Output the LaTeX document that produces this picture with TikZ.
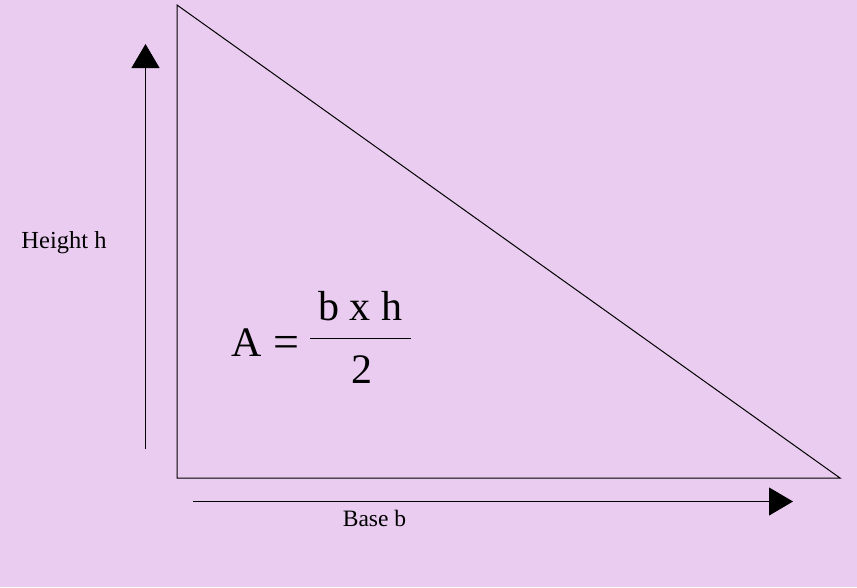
\documentclass[tikz,border=0pt]{standalone}
\usepackage{fontspec}
\setmainfont{Liberation Serif}
\usetikzlibrary{arrows.meta}
\definecolor{bgpurple}{HTML}{EACCF0}
\tikzset{
  edge/.style={line width=1pt, black},
  bigarrow/.style={line width=1pt, -{Triangle[length=24pt,width=28pt]}},
  lbl/.style={inner sep=0pt, font=\fontsize{24.5}{28}\selectfont},
  formula/.style={inner sep=0pt, font=\fontsize{42}{48}\selectfont}
}
\begin{document}
\begin{tikzpicture}[x=1pt,y=-1pt]
  \fill[bgpurple] (0,0) rectangle (857,587);
  \useasboundingbox (0,0) rectangle (857,587);
  % triangle
  \coordinate (T) at (177,5);
  \coordinate (O) at (177,478);
  \coordinate (R) at (840,478);
  \draw[edge, line join=miter] (T) -- (O) -- (R) -- cycle;
  % height arrow
  \coordinate (h0) at (145.5,449);
  \coordinate (h1) at (145.5,44);
  \draw[bigarrow] (h0) -- (h1);
  % base arrow
  \coordinate (b0) at (193,501.5);
  \coordinate (b1) at (793,501.5);
  \draw[bigarrow] (b0) -- (b1);
  % labels
  \node[lbl, anchor=base] (hl) at (64,248) {Height h};
  \node[lbl, anchor=base, font=\fontsize{23.5}{28}\selectfont] (bl) at (374.5,526) {Base b};
  % formula
  \node[formula, anchor=base west] (A) at (231,356) {A};
  \node[formula, anchor=base, font=\fontsize{46}{48}\selectfont] (eq) at (286.5,357) {=};
  \node[formula, anchor=base] (num) at (360,320) {b x h};
  \node[formula, anchor=base] (den) at (362,383) {2};
  \coordinate (f0) at (310,338);
  \coordinate (f1) at (411,338);
  \draw[line width=1pt] (f0) -- (f1);
\end{tikzpicture}
\end{document}
